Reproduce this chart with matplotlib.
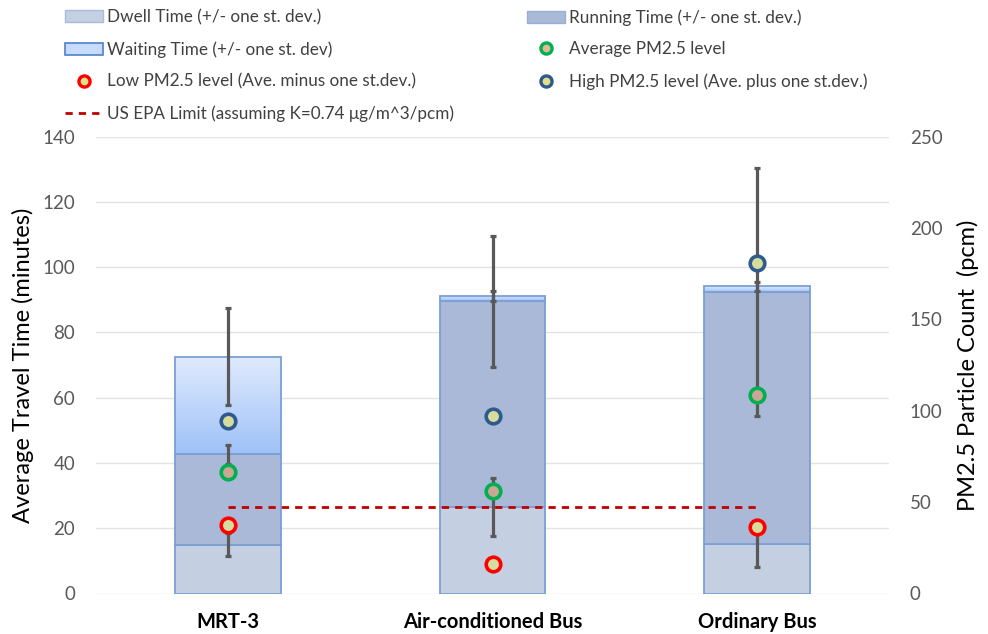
import numpy as np
import matplotlib
matplotlib.use("Agg")
from matplotlib import pyplot as plt
from matplotlib.patches import Patch
from matplotlib.lines import Line2D
from matplotlib.colors import LinearSegmentedColormap

plt.rcParams['font.family'] = ['Lato', 'DejaVu Sans']

categories = ["MRT-3", "Air-conditioned Bus", "Ordinary Bus"]

# travel time segments (minutes) and their st. dev.
dwell = np.array([15.0, 26.5, 15.2])
running = np.array([27.6, 63.0, 77.1])
waiting = np.array([30.0, 1.6, 1.8])
dwell_sd = np.array([3.5, 9.0, 7.0])
running_sd = np.array([3.0, 20.0, 38.0])
waiting_sd = np.array([15.0, 1.5, 1.3])

# PM2.5 particle counts (pcm)
pm_low = [37.5, 15.9, 36.6]
pm_avg = [66.2, 56.3, 108.8]
pm_high = [94.6, 97.0, 180.9]
epa_limit = 35 / 0.74

DWELL_C = '#c4cfe2'
RUN_C = '#aab9d7'
EDGE_C = '#7b9fd4'
ERR_C = '#595959'
TICK_C = '#595959'

fig = plt.figure(figsize=(9.88, 6.34), dpi=100)
ax = fig.add_axes([96 / 988, (634 - 593.5) / 634, (889 - 96) / 988, (593.5 - 136.5) / 634])
ax2 = ax.twinx()

x = np.arange(len(categories))
w = 0.4

ax.bar(x, dwell, w, color=DWELL_C, edgecolor=EDGE_C, lw=1.3, zorder=2)
ax.bar(x, running, w, bottom=dwell, color=RUN_C, edgecolor=EDGE_C, lw=1.3, zorder=2)
b3 = ax.bar(x, waiting, w, bottom=dwell + running, facecolor='none',
            edgecolor=EDGE_C, lw=1.3, zorder=3)

# gradient fill for the waiting segment
cmap = LinearSegmentedColormap.from_list('wait', ['#9ec1f7', '#e0ebfd'])
grad = np.linspace(0, 1, 256).reshape(-1, 1)
for rect in b3.patches:
    x0, y0 = rect.get_xy()
    im = ax.imshow(grad, extent=[x0, x0 + rect.get_width(), y0, y0 + rect.get_height()],
                   aspect='auto', cmap=cmap, origin='lower', zorder=2.5)
    im.set_clip_path(rect)

err_kw = dict(fmt='none', ecolor=ERR_C, elinewidth=2.3, capsize=2, capthick=2.3, zorder=4)
ax.errorbar(x, dwell, yerr=dwell_sd, **err_kw)
ax.errorbar(x, dwell + running, yerr=running_sd, **err_kw)
ax.errorbar(x, dwell + running + waiting, yerr=waiting_sd, **err_kw)

ax.set_xlim(-0.5, 2.5)
ax.set_ylim(0, 140)
ax.set_yticks(np.arange(0, 141, 20))
ax.set_xticks(x, categories, fontweight='bold', fontsize=14.5)
ax.grid(axis='y', color='#e3e3e3', lw=1)
ax.set_axisbelow(True)

ax2.plot([x[0], x[-1]], [epa_limit, epa_limit], ls=(0, (2.6, 2.2)), color='#c00000', lw=2, zorder=3)
mk = dict(ls='none', marker='o', ms=10.5, mew=2.6, zorder=5)
ax2.plot(x, pm_avg, mfc='#c8a794', mec='#00b050', **mk)
ax2.plot(x, pm_low, mfc='#d5dc9e', mec='#ff0000', **mk)
ax2.plot(x, pm_high, mfc='#d5dc9e', mec='#2f5a8e', **mk)
ax2.set_ylim(0, 250)
ax2.set_yticks(np.arange(0, 251, 50))

for a in (ax, ax2):
    for s in a.spines.values():
        s.set_visible(False)
    a.tick_params(length=0, labelsize=13.5, labelcolor=TICK_C)
ax.tick_params(axis='y', pad=15)
ax2.tick_params(axis='y', pad=15)
ax.tick_params(axis='x', pad=13, labelcolor='black', labelsize=14.5)

ax.set_ylabel('Average Travel Time (minutes)', fontsize=17)
ax.yaxis.set_label_coords((34 - 96) / 793, 0.5)
ax2.set_ylabel('PM2.5 Particle Count  (pcm)', fontsize=17)
ax2.yaxis.set_label_coords((957 - 96) / 793, 0.5)

# legend, two columns placed by hand
h_dwell = Patch(facecolor=DWELL_C, edgecolor='#a9bbd9', lw=1)
h_run = Patch(facecolor=RUN_C, edgecolor='#9aaed3', lw=1)
h_wait = Patch(facecolor='#c7dbfa', edgecolor='#4f7fc9', lw=1.2)
h_avg = Line2D([], [], ls='none', marker='o', ms=8, mew=2.4, mfc='#e2b89c', mec='#00b050')
h_low = Line2D([], [], ls='none', marker='o', ms=8, mew=2.4, mfc='#e0e08a', mec='#ff0000')
h_high = Line2D([], [], ls='none', marker='o', ms=8, mew=2.4, mfc='#e0e08a', mec='#2f5a8e')
h_epa = Line2D([], [], ls=(0, (2.6, 2.2)), color='#c00000', lw=2)

leg_kw = dict(loc='upper left', frameon=False, fontsize=12.3, borderpad=0, borderaxespad=0,
              handlelength=2.2, handletextpad=0.25, labelspacing=0.93, labelcolor='#404040')
fig.legend([h_dwell, h_wait, h_low, h_epa],
           ['Dwell Time (+/- one st. dev.)', 'Waiting Time (+/- one st. dev)',
            'Low PM2.5 level (Ave. minus one st.dev.)',
            'US EPA Limit (assuming K=0.74 μg/m^3/pcm)'],
           bbox_to_anchor=(65 / 988, 1 - 9 / 634), **leg_kw)
fig.legend([h_run, h_avg, h_high],
           ['Running Time (+/- one st. dev.)', 'Average PM2.5 level',
            'High PM2.5 level (Ave. plus one st.dev.)'],
           bbox_to_anchor=(527 / 988, 1 - 9 / 634), **leg_kw)

fig.savefig('out.png', dpi=100)
